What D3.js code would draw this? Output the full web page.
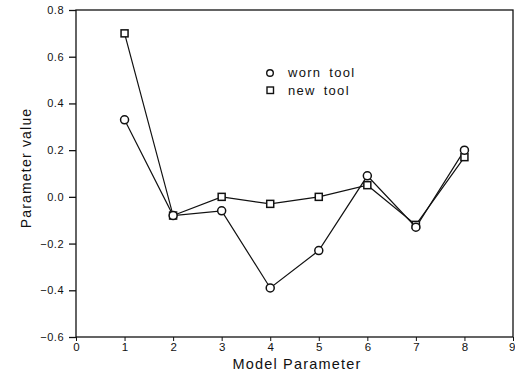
<!DOCTYPE html>
<html><head><meta charset="utf-8">
<script src="https://cdn.jsdelivr.net/npm/d3@7"></script>
<style>body{margin:0;background:#fff}svg{display:block}text{font-family:"Liberation Sans",Arial,sans-serif;fill:#111}</style>
</head><body>
<svg id="c" width="515" height="374"></svg>
<script>
const params = [1,2,3,4,5,6,7,8];
const wornTool = [0.33,-0.08,-0.06,-0.39,-0.23,0.09,-0.13,0.20];
const newTool  = [0.70,-0.08,0.00,-0.03,0.00,0.05,-0.12,0.17];
const xTicks = [0,1,2,3,4,5,6,7,8,9];
const yTicks = [0.8,0.6,0.4,0.2,0.0,-0.2,-0.4,-0.6];
const yTickLabels = ["0.8","0.6","0.4","0.2","0.0","\u22120.2","\u22120.4","\u22120.6"];
const legendLabels = ["worn tool","new tool"];

const svg = d3.select("#c");
const L=76,R=513,T=10,B=337;
const x = d3.scaleLinear().domain([0,9]).range([L,R]);
const y = d3.scaleLinear().domain([-0.6,0.8]).range([B,T]);

// frame
svg.append("rect").attr("x",L).attr("y",T).attr("width",R-L).attr("height",B-T)
  .attr("fill","none").attr("stroke","#111").attr("stroke-width",1.3);

// y axis
const ya = svg.append("g").attr("transform",`translate(${L},0)`)
  .call(d3.axisLeft(y).tickValues(yTicks).tickSize(7).tickPadding(5)
    .tickFormat((d,i)=>yTickLabels[i]));
ya.select(".domain").remove();
ya.selectAll("line").attr("stroke","#111").attr("stroke-width",1.3);
ya.selectAll("text").attr("font-size",11).style("letter-spacing","0.5px").attr("fill","#111");

// x axis
const xa = svg.append("g").attr("transform",`translate(0,${B})`)
  .call(d3.axisBottom(x).tickValues(xTicks).tickSize(4).tickPadding(2).tickFormat(d3.format("d")));
xa.select(".domain").remove();
xa.selectAll("line").attr("stroke","#111").attr("stroke-width",1);
xa.selectAll("text").attr("font-size",11.5).attr("fill","#111");
// keep last label inside the canvas
xa.selectAll(".tick").filter(d=>d===9).select("text").attr("text-anchor","end").attr("dx",2);

// titles
svg.append("text").attr("x",297).attr("y",369).attr("text-anchor","middle")
  .attr("font-size",14.5).style("letter-spacing","1.2px").text("Model Parameter");
svg.append("text").attr("transform","translate(31,168) rotate(-90)").attr("text-anchor","middle")
  .attr("font-size",14).style("letter-spacing","1.2px").text("Parameter value");

const line = d3.line().x((d,i)=>x(params[i])).y(d=>y(d));
[wornTool,newTool].forEach(s=>{
  svg.append("path").datum(s).attr("d",line).attr("fill","none")
    .attr("stroke","#111").attr("stroke-width",1.2);
});
svg.selectAll(".sq").data(newTool).join("rect").attr("class","sq")
  .attr("x",(d,i)=>x(params[i])-3.5).attr("y",d=>y(d)-3.5).attr("width",7).attr("height",7)
  .attr("fill","#fff").attr("stroke","#111").attr("stroke-width",1.5);
svg.selectAll(".ci").data(wornTool).join("circle").attr("class","ci")
  .attr("cx",(d,i)=>x(params[i])).attr("cy",d=>y(d)).attr("r",4)
  .attr("fill","#fff").attr("stroke","#111").attr("stroke-width",1.5);

// legend
const lg = svg.append("g");
lg.append("circle").attr("cx",270).attr("cy",73).attr("r",3.3).attr("fill","#fff").attr("stroke","#111").attr("stroke-width",1.4);
lg.append("rect").attr("x",267).attr("y",87).attr("width",6.5).attr("height",6.5).attr("fill","#fff").attr("stroke","#111").attr("stroke-width",1.4);
legendLabels.forEach((t,i)=>{
  lg.append("text").attr("x",288).attr("y",77+i*17.5).attr("font-size",13)
    .style("letter-spacing","1.3px").style("word-spacing","3px").text(t);
});
</script>
</body></html>
